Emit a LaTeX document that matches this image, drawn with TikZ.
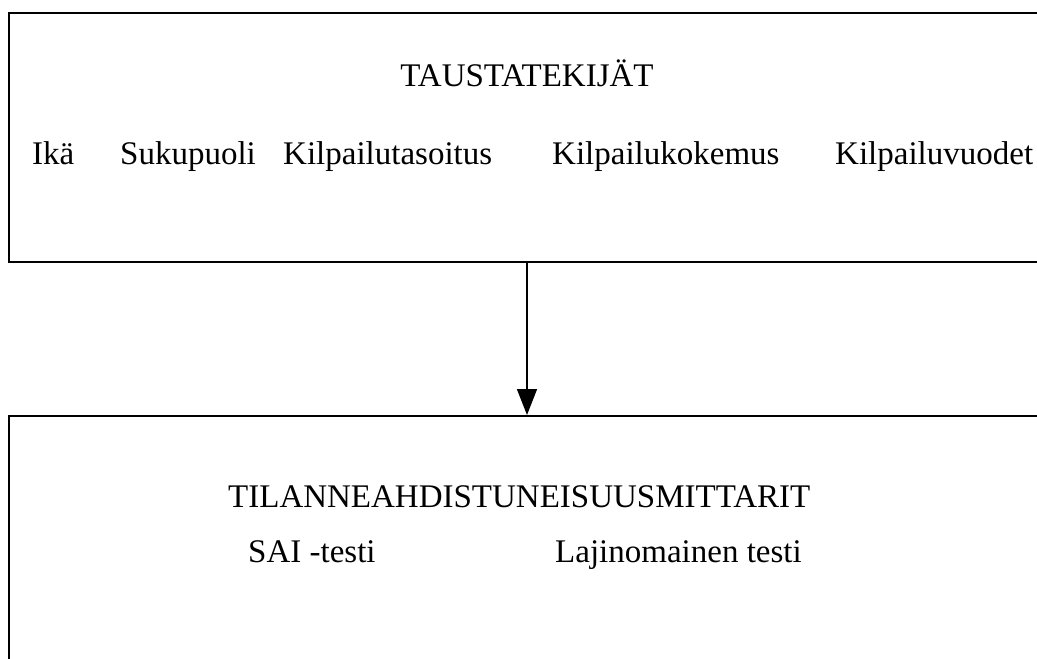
\documentclass[tikz,border=0pt]{standalone}
\usepackage{fontspec}
\setmainfont{Liberation Serif}
\usetikzlibrary{arrows.meta}
\tikzset{
  panel/.style={draw, line width=2pt, rectangle, inner sep=0pt},
  label/.style={anchor=base west, inner sep=0pt, font=\fontsize{33}{40}\selectfont},
  title/.style={anchor=base, inner sep=0pt, font=\fontsize{33}{40}\selectfont},
}
\begin{document}
\begin{tikzpicture}[x=1pt, y=-1pt]
      \useasboundingbox (0,0) rectangle (1037,659);
      \clip (0,0) rectangle (1037,659);
      \node[panel, minimum width=1036pt, minimum height=249pt] (tausta) at (527,137.5) {};
      \node[panel, minimum width=1036pt, minimum height=284pt] (mittarit) at (527,558) {};
      \node[title] (taustaotsikko) at (527,86) {TAUSTATEKIJÄT};
      \node[label] (ika) at (32,164) {Ikä};
      \node[label] (sukupuoli) at (120,164) {Sukupuoli};
      \node[label] (tasoitus) at (283,164) {Kilpailutasoitus};
      \node[label] (kokemus) at (552,164) {Kilpailukokemus};
      \node[label] (vuodet) at (835,164) {Kilpailuvuodet};
      \node[label] (mittariotsikko) at (228,507) {TILANNEAHDISTUNEISUUSMITTARIT};
      \node[label] (sai) at (248,562) {SAI -testi};
      \node[label] (lajinomainen) at (555,562) {Lajinomainen testi};
      \begin{scope}[-{Triangle[width=20pt, length=26pt]}]
        \draw[line width=1.5pt] (tausta.south) to (mittarit.north);
      \end{scope}
    \end{tikzpicture}
\end{document}
